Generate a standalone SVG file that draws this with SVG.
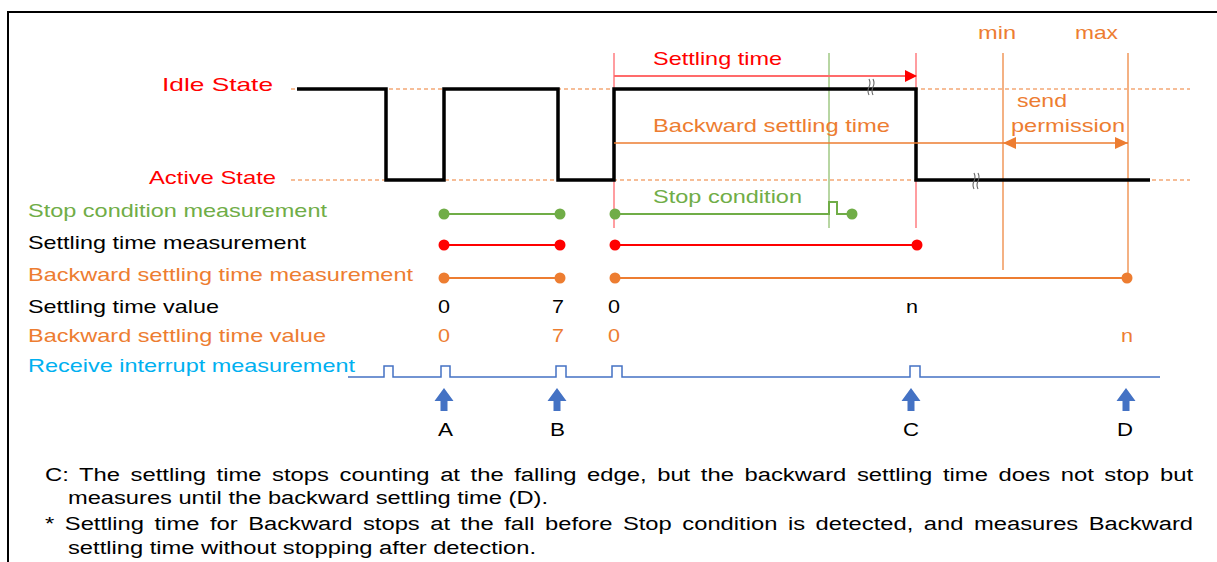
<svg xmlns="http://www.w3.org/2000/svg" width="1217" height="562" viewBox="0 0 1217 562">
<style>
text{font-family:"Liberation Sans",Arial,sans-serif;font-size:19px}
.red{fill:#FF0000}.grn{fill:#70AD47}.org{fill:#ED7D31}.blk{fill:#000}.blu{fill:#00B0F0}
.note{font-size:18px;fill:#000}
.dash{stroke:#ED7D31;stroke-width:1.2;stroke-dasharray:4 3;fill:none}
.sig{stroke:#000;stroke-width:3.5;fill:none;stroke-linejoin:miter}
.brk{stroke:#666;stroke-width:1.1;fill:none}
.mc{text-anchor:middle}
</style>
<defs>
<marker id="redHead" markerWidth="12" markerHeight="12" refX="11" refY="6" orient="auto" markerUnits="userSpaceOnUse"><path d="M0,0 L12,6 L0,12 Z" fill="#FF0000"/></marker>
<marker id="orgHead" markerWidth="13" markerHeight="12" refX="13" refY="6" orient="auto-start-reverse" markerUnits="userSpaceOnUse"><path d="M0,0 L13,6 L0,12 Z" fill="#ED7D31"/></marker>
<path id="upArrow" d="M0,0 L9.5,13 L3.5,13 L3.5,23 L-3.5,23 L-3.5,13 L-9.5,13 Z" fill="#4472C4"/>
</defs>
<rect x="8" y="12" width="1230" height="570" fill="none" stroke="#000" stroke-width="2"/>

<g id="levels">
<line class="dash" x1="291" y1="89" x2="1190" y2="89"/>
<line class="dash" x1="291" y1="180" x2="1190" y2="180"/>
<text class="red" x="162" y="91" textLength="111" lengthAdjust="spacingAndGlyphs">Idle State</text>
<text class="red" x="149" y="184" textLength="127" lengthAdjust="spacingAndGlyphs">Active State</text>
</g>

<g id="guides">
<line x1="614" y1="53" x2="614" y2="228" stroke="#FF7C80" stroke-width="1.5"/>
<line x1="916" y1="53" x2="916" y2="228" stroke="#FF7C80" stroke-width="1.5"/>
<line x1="829" y1="53" x2="829" y2="228" stroke="#70AD47" stroke-width="1"/>
<line x1="1003" y1="53" x2="1003" y2="270" stroke="#F4B183" stroke-width="2"/>
<line x1="1128" y1="53" x2="1128" y2="278" stroke="#F4B183" stroke-width="2"/>
<text class="org" x="978" y="39" textLength="38" lengthAdjust="spacingAndGlyphs">min</text>
<text class="org" x="1075" y="39" textLength="43" lengthAdjust="spacingAndGlyphs">max</text>
</g>

<g id="signal">
<polyline class="sig" points="297,89 386,89 386,180 444,180 444,89 558,89 558,180 614,180 614,89 916,89 916,180 1150,180"/>
<path class="brk" d="M869,79 q2,4 0,8 q-2,4 0,8 M873,79 q2,4 0,8 q-2,4 0,8"/>
<path class="brk" d="M974,173 q2,4 0,8 q-2,4 0,8 M978,173 q2,4 0,8 q-2,4 0,8"/>
</g>

<g id="settling-time">
<line x1="614" y1="76" x2="916" y2="76" stroke="#FF6B6B" stroke-width="2" marker-end="url(#redHead)"/>
<text class="red" x="653" y="65" textLength="129" lengthAdjust="spacingAndGlyphs">Settling time</text>
</g>

<g id="backward-settling-time">
<line x1="614" y1="143" x2="1003" y2="143" stroke="#ED7D31" stroke-width="1.5"/>
<line x1="1003" y1="143" x2="1128" y2="143" stroke="#ED7D31" stroke-width="1.5" marker-start="url(#orgHead)" marker-end="url(#orgHead)"/>
<text class="org" x="653" y="132" textLength="237" lengthAdjust="spacingAndGlyphs">Backward settling time</text>
<text class="org" x="1017" y="107" textLength="50" lengthAdjust="spacingAndGlyphs">send</text>
<text class="org" x="1011" y="132" textLength="114" lengthAdjust="spacingAndGlyphs">permission</text>
</g>

<g id="stop-condition">
<text class="grn" x="653" y="203" textLength="149" lengthAdjust="spacingAndGlyphs">Stop condition</text>
<g stroke="#70AD47" stroke-width="2" fill="none">
<line x1="444" y1="214" x2="560" y2="214"/>
<polyline points="615,214 829,214 829,202 837,202 837,214 852,214"/>
</g>
<g fill="#70AD47"><circle cx="444" cy="214" r="5.5"/><circle cx="560" cy="214" r="5.5"/><circle cx="615" cy="214" r="5.5"/><circle cx="852" cy="214" r="5.5"/></g>
</g>

<g id="settling-measure">
<g stroke="#FF0000" stroke-width="2"><line x1="444" y1="245" x2="560" y2="245"/><line x1="615" y1="245" x2="917" y2="245"/></g>
<g fill="#FF0000"><circle cx="444" cy="245" r="5.5"/><circle cx="560" cy="245" r="5.5"/><circle cx="615" cy="245" r="5.5"/><circle cx="917" cy="245" r="5.5"/></g>
</g>

<g id="backward-measure">
<g stroke="#ED7D31" stroke-width="2"><line x1="444" y1="278" x2="560" y2="278"/><line x1="615" y1="278" x2="1127" y2="278"/></g>
<g fill="#ED7D31"><circle cx="444" cy="278" r="5.5"/><circle cx="560" cy="278" r="5.5"/><circle cx="615" cy="278" r="5.5"/><circle cx="1127" cy="278" r="5.5"/></g>
</g>

<g id="row-labels">
<text class="grn" x="28" y="217" textLength="299" lengthAdjust="spacingAndGlyphs">Stop condition measurement</text>
<text class="blk" x="28" y="249" textLength="278" lengthAdjust="spacingAndGlyphs">Settling time measurement</text>
<text class="org" x="28" y="281" textLength="385" lengthAdjust="spacingAndGlyphs">Backward settling time measurement</text>
<text class="blk" x="28" y="313" textLength="191" lengthAdjust="spacingAndGlyphs">Settling time value</text>
<text class="org" x="28" y="342" textLength="298" lengthAdjust="spacingAndGlyphs">Backward settling time value</text>
<text class="blu" x="28" y="372" textLength="327" lengthAdjust="spacingAndGlyphs">Receive interrupt measurement</text>
</g>

<g id="values">
<text class="blk" x="438" y="313" textLength="12" lengthAdjust="spacingAndGlyphs">0</text>
<text class="blk" x="552" y="313" textLength="12" lengthAdjust="spacingAndGlyphs">7</text>
<text class="blk" x="608" y="313" textLength="12" lengthAdjust="spacingAndGlyphs">0</text>
<text class="blk" x="906" y="313" textLength="12" lengthAdjust="spacingAndGlyphs">n</text>
<text class="org" x="438" y="342" textLength="12" lengthAdjust="spacingAndGlyphs">0</text>
<text class="org" x="552" y="342" textLength="12" lengthAdjust="spacingAndGlyphs">7</text>
<text class="org" x="608" y="342" textLength="12" lengthAdjust="spacingAndGlyphs">0</text>
<text class="org" x="1121" y="342" textLength="12" lengthAdjust="spacingAndGlyphs">n</text>
</g>

<g id="interrupt">
<polyline points="348,377 384,377 384,366 393,366 393,377 441,377 441,366 450,366 450,377 556,377 556,366 566,366 566,377 612,377 612,366 622,366 622,377 910,377 910,366 920,366 920,377 1160,377" fill="none" stroke="#4472C4" stroke-width="1.5"/>
</g>

<g id="events">
<use href="#upArrow" x="444" y="388"/>
<use href="#upArrow" x="557" y="388"/>
<use href="#upArrow" x="911" y="388"/>
<use href="#upArrow" x="1126" y="388"/>
<text class="blk" x="438" y="436" textLength="15" lengthAdjust="spacingAndGlyphs">A</text>
<text class="blk" x="550" y="436" textLength="15" lengthAdjust="spacingAndGlyphs">B</text>
<text class="blk" x="903" y="436" textLength="16" lengthAdjust="spacingAndGlyphs">C</text>
<text class="blk" x="1117" y="436" textLength="16" lengthAdjust="spacingAndGlyphs">D</text>
</g>

<g id="notes">
<text class="note" x="45" y="481" textLength="1148" lengthAdjust="spacingAndGlyphs" word-spacing="3">C: The settling time stops counting at the falling edge, but the backward settling time does not stop but</text>
<text class="note" x="68" y="504" textLength="480" lengthAdjust="spacingAndGlyphs">measures until the backward settling time (D).</text>
<text class="note" x="45" y="530" textLength="1148" lengthAdjust="spacingAndGlyphs" word-spacing="3">* Settling time for Backward stops at the fall before Stop condition is detected, and measures Backward</text>
<text class="note" x="68" y="554" textLength="468" lengthAdjust="spacingAndGlyphs">settling time without stopping after detection.</text>
</g>
</svg>
